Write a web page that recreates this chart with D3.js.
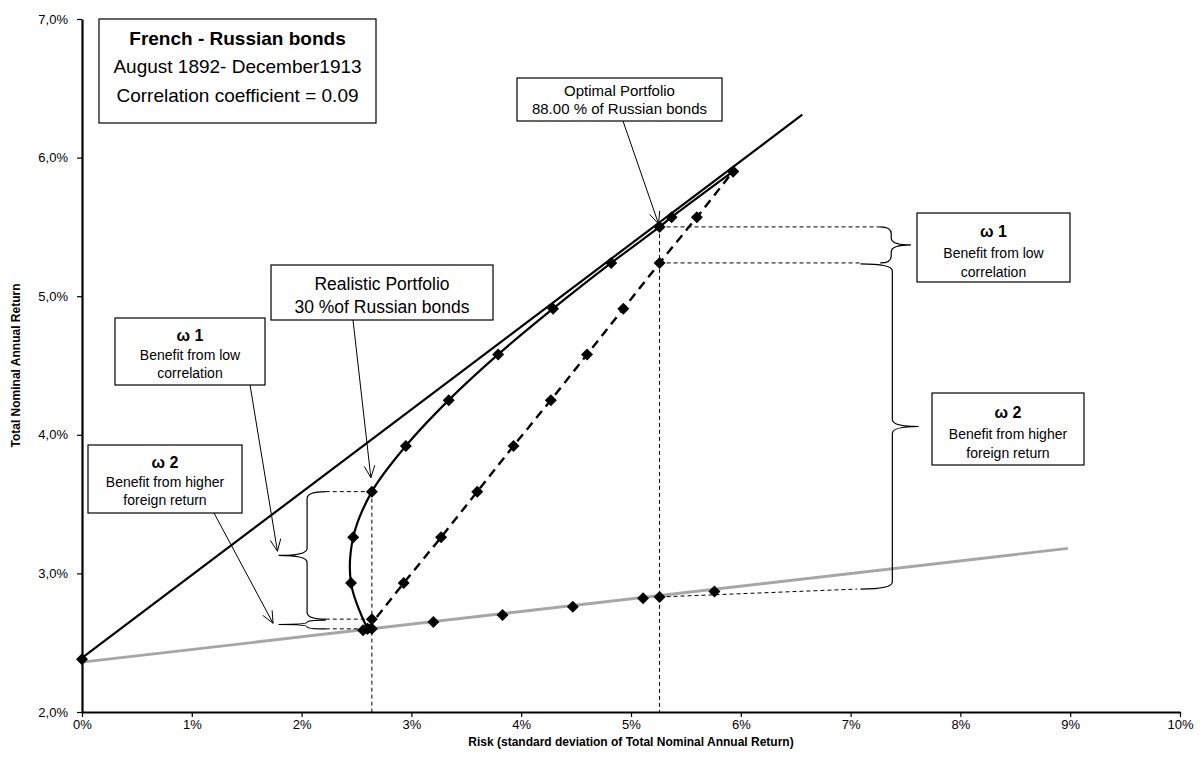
<!DOCTYPE html>
<html><head><meta charset="utf-8">
<script src="https://cdn.jsdelivr.net/npm/d3@7"></script>
<style>
html,body{margin:0;padding:0;background:#fff;}
text{font-family:Arial,"Liberation Sans",sans-serif;fill:#000;}
</style></head>
<body><svg id="chart" width="1204" height="774"></svg>
<script>
// ---- data (percent) ----
const xTicks = [0,1,2,3,4,5,6,7,8,9,10];
const xTickLabels = ["0%","1%","2%","3%","4%","5%","6%","7%","8%","9%","10%"];
const yTicks = [2,3,4,5,6,7];
const yTickLabels = ["2,0%","3,0%","4,0%","5,0%","6,0%","7,0%"];

// efficient frontier (correlation 0.09), solid smoothed curve
const frontierRisk   = [2.60, 2.45, 2.47, 2.64, 2.95, 3.34, 3.79, 4.29, 4.82, 5.26, 5.37, 5.93];
const frontierReturn = [2.60, 2.93, 3.26, 3.59, 3.92, 4.25, 4.58, 4.91, 5.24, 5.50, 5.57, 5.90];
// perfect-correlation line, dashed
const linearRisk   = [2.60, 2.93, 3.27, 3.60, 3.93, 4.27, 4.60, 4.93, 5.26, 5.60, 5.93];
const linearReturn = [2.60, 2.93, 3.26, 3.59, 3.92, 4.25, 4.58, 4.91, 5.24, 5.57, 5.90];
const linearExtraRisk = [2.64];
const linearExtraReturn = [2.67];
// grey line
const greyLineRisk = [0, 8.98];
const greyLineReturn = [2.36, 3.18];
const greyPtRisk   = [2.56, 2.64, 3.20, 3.83, 4.47, 5.11, 5.26, 5.76];
const greyPtReturn = [2.59, 2.60, 2.65, 2.70, 2.76, 2.82, 2.83, 2.87];
// tangent (capital market) line
const tangentRisk   = [0, 6.56];
const tangentReturn = [2.39, 6.31];
const riskFreeRisk = [0];
const riskFreeReturn = [2.38];

// portfolios
const realistic = {risk: 2.64, curve: 3.59, linear: 2.67, grey: 2.60};
const optimal   = {risk: 5.26, curve: 5.50, linear: 5.24, grey: 2.83};

// ---- layout ----
const svg = d3.select("#chart");
const x = d3.scaleLinear().domain([0,10]).range([82,1180]);
const y = d3.scaleLinear().domain([2,7]).range([712,19]);

// axes
const gx = svg.append("g").attr("transform",`translate(0,${y(2)})`)
  .call(d3.axisBottom(x).tickValues(xTicks).tickFormat((d,i)=>xTickLabels[i]).tickSize(5).tickSizeOuter(0));
gx.select(".domain").attr("stroke","#000").attr("stroke-width",2.2);
gx.selectAll(".tick line").attr("stroke","#000").attr("stroke-width",1.2);
gx.selectAll(".tick text").attr("font-size",13).attr("dy","0.71em").style("font-family","Arial, 'Liberation Sans', sans-serif");

const gy = svg.append("g").attr("transform",`translate(${x(0)},0)`)
  .call(d3.axisLeft(y).tickValues(yTicks).tickFormat((d,i)=>yTickLabels[i]).tickSize(5).tickSizeOuter(0));
gy.select(".domain").attr("stroke","#000").attr("stroke-width",2.2);
gy.selectAll(".tick line").attr("stroke","#000").attr("stroke-width",1.2);
gy.selectAll(".tick text").attr("font-size",13).attr("dx","-6").style("font-family","Arial, 'Liberation Sans', sans-serif");

svg.append("text").attr("x",631).attr("y",746).attr("text-anchor","middle")
  .attr("font-size",12).attr("font-weight","bold")
  .text("Risk (standard deviation of Total Nominal Annual Return)");
svg.append("text").attr("transform",`translate(20,${(y(2)+y(7))/2}) rotate(-90)`).attr("text-anchor","middle")
  .attr("font-size",12).attr("font-weight","bold")
  .text("Total Nominal Annual Return");

const zip = (a,b)=>a.map((v,i)=>[v,b[i]]);
const line = d3.line().x(d=>x(d[0])).y(d=>y(d[1]));
const diamond = "M0,-6L6,0L0,6L-6,0Z";
function diamonds(rs, ys){
  svg.append("g").selectAll("path").data(zip(rs,ys)).join("path")
    .attr("d",diamond).attr("fill","#000")
    .attr("transform",d=>`translate(${x(d[0])},${y(d[1])})`);
}

// grey line
svg.append("path").datum(zip(greyLineRisk,greyLineReturn)).attr("d",line)
  .attr("fill","none").attr("stroke","#a6a6a6").attr("stroke-width",2.8);

// guide dashed lines (thin)
const guide = svg.append("g").attr("stroke","#000").attr("stroke-width",1).attr("stroke-dasharray","4,3").attr("fill","none");
guide.append("line").attr("x1",x(realistic.risk)).attr("x2",x(realistic.risk)).attr("y1",y(realistic.curve)).attr("y2",y(2));
guide.append("line").attr("x1",x(optimal.risk)).attr("x2",x(optimal.risk)).attr("y1",y(optimal.curve)).attr("y2",y(2));
// left
[realistic.curve, realistic.linear, realistic.grey].forEach(v=>{
  guide.append("line").attr("x1",x(2.22)).attr("x2",x(realistic.risk)).attr("y1",y(v)).attr("y2",y(v));
});
// right
guide.append("line").attr("x1",x(optimal.risk)).attr("x2",x(7.27)).attr("y1",y(optimal.curve)).attr("y2",y(optimal.curve));
guide.append("line").attr("x1",x(optimal.risk)).attr("x2",x(7.09)).attr("y1",y(optimal.linear)).attr("y2",y(optimal.linear));
guide.append("line").attr("x1",x(optimal.risk)).attr("x2",x(7.06)).attr("y1",y(optimal.grey)).attr("y2",y(2.887));

// tangent line
svg.append("path").datum(zip(tangentRisk,tangentReturn)).attr("d",line)
  .attr("fill","none").attr("stroke","#000").attr("stroke-width",2.2);

// dashed linear line
svg.append("path").datum(zip(linearRisk,linearReturn)).attr("d",line)
  .attr("fill","none").attr("stroke","#000").attr("stroke-width",2.4).attr("stroke-dasharray","9,6");

// frontier curve
svg.append("path").datum(zip(frontierRisk,frontierReturn))
  .attr("d",d3.line().x(d=>x(d[0])).y(d=>y(d[1])).curve(d3.curveCatmullRom.alpha(0.5)))
  .attr("fill","none").attr("stroke","#000").attr("stroke-width",2.2);

diamonds(greyPtRisk, greyPtReturn);
diamonds(linearRisk, linearReturn);
diamonds(linearExtraRisk, linearExtraReturn);
diamonds(frontierRisk, frontierReturn);
diamonds(riskFreeRisk, riskFreeReturn);

// braces
function brace(xArm, xSpine, xTip, y1, y2){
  const ym=(y1+y2)/2, r=Math.min(7,(y2-y1)/4);
  return `M${xArm},${y1} Q${xSpine},${y1} ${xSpine},${y1+r} L${xSpine},${ym-r} Q${xSpine},${ym} ${xTip},${ym} `+
         `Q${xSpine},${ym} ${xSpine},${ym+r} L${xSpine},${y2-r} Q${xSpine},${y2} ${xArm},${y2}`;
}
const br = svg.append("g").attr("fill","none").attr("stroke","#000").attr("stroke-width",1.2);
br.append("path").attr("d",brace(x(2.22), x(2.05), x(1.79), y(realistic.curve), y(realistic.linear)));
br.append("path").attr("d",brace(x(2.22), x(2.05), x(1.79), y(realistic.linear)+1, y(realistic.grey)));
br.append("path").attr("d",brace(x(7.27), x(7.37), x(7.55), y(optimal.curve), y(optimal.linear)));
br.append("path").attr("d",brace(x(7.09), x(7.38), x(7.62), y(optimal.linear)+1, y(2.887)));

// arrows
function arrow(x1,y1,x2,y2){
  const g = svg.append("g").attr("stroke","#000").attr("stroke-width",1).attr("fill","none");
  g.append("line").attr("x1",x1).attr("y1",y1).attr("x2",x2).attr("y2",y2);
  const a = Math.atan2(y2-y1,x2-x1), L=13, s=0.42;
  g.append("path").attr("d",`M${x2-L*Math.cos(a-s)},${y2-L*Math.sin(a-s)} L${x2},${y2} L${x2-L*Math.cos(a+s)},${y2-L*Math.sin(a+s)}`);
}
arrow(623,121, x(optimal.risk)-1, y(optimal.curve)-3);
arrow(353,320, x(realistic.risk)-1, y(realistic.curve)-14);
arrow(250,385, x(1.78), y(3.16));
arrow(214,513, x(1.74), y(2.64));

// boxes
function box(x0,y0,w,h,lines){
  const g = svg.append("g");
  g.append("rect").attr("x",x0).attr("y",y0).attr("width",w).attr("height",h)
    .attr("fill","#fff").attr("stroke","#000").attr("stroke-width",1.2);
  lines.forEach(l=>{
    g.append("text").attr("x",x0+w/2).attr("y",l.y).attr("text-anchor","middle")
      .attr("font-size",l.size).attr("font-weight",l.bold?"bold":"normal").text(l.t);
  });
}
box(99,19,277,104,[
  {t:"French - Russian bonds",y:45,size:19,bold:true},
  {t:"August 1892- December1913",y:73,size:19},
  {t:"Correlation coefficient = 0.09",y:102,size:19}]);
box(517,78,205,43,[
  {t:"Optimal Portfolio",y:96,size:15},
  {t:"88.00 % of Russian bonds",y:114,size:15}]);
box(271,265,222,55,[
  {t:"Realistic Portfolio",y:290,size:17.5},
  {t:"30 %of Russian bonds",y:313,size:17.5}]);
box(115,318,150,67,[
  {t:"ω 1",y:341,size:16,bold:true},
  {t:"Benefit from low",y:360,size:14},
  {t:"correlation",y:378,size:14}]);
box(88,445,154,68,[
  {t:"ω 2",y:468,size:16,bold:true},
  {t:"Benefit from higher",y:487,size:14},
  {t:"foreign return",y:505,size:14}]);
box(917,213,153,69,[
  {t:"ω 1",y:237,size:16,bold:true},
  {t:"Benefit from low",y:258,size:14},
  {t:"correlation",y:277,size:14}]);
box(932,393,152,72,[
  {t:"ω 2",y:418,size:16,bold:true},
  {t:"Benefit from higher",y:439,size:14},
  {t:"foreign return",y:458,size:14}]);
</script></body></html>
